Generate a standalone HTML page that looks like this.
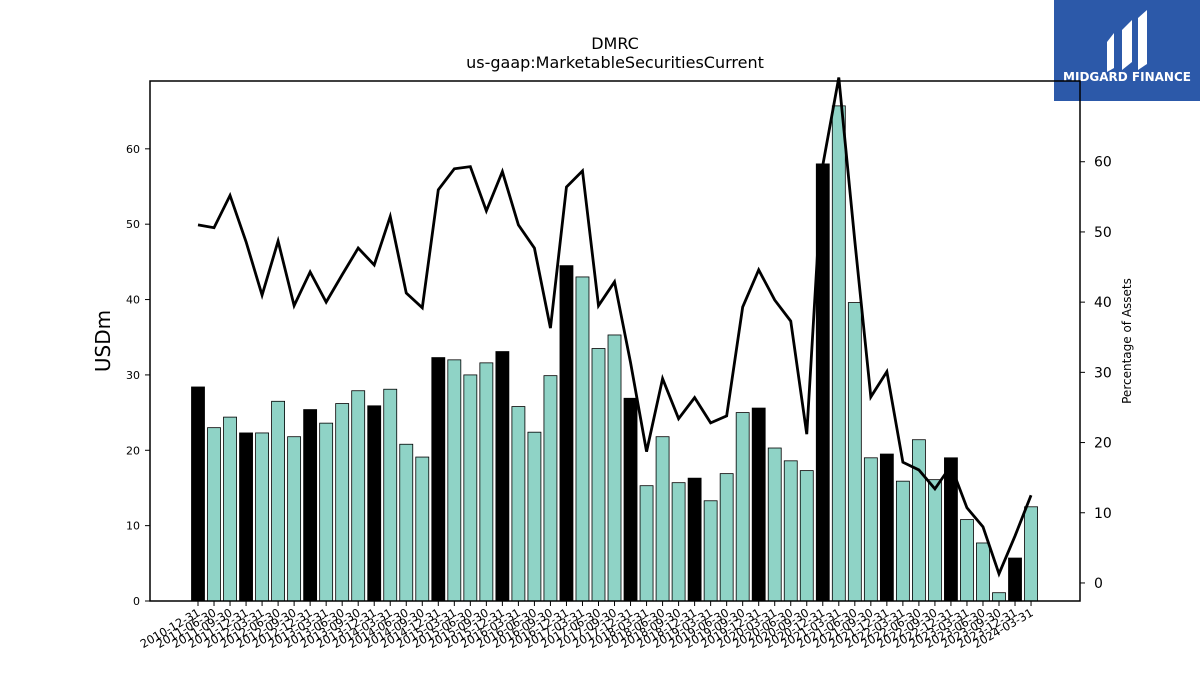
<!DOCTYPE html>
<html><head><meta charset="utf-8"><style>
body{margin:0;background:#fff;font-family:"Liberation Sans","DejaVu Sans",sans-serif}
svg text{font-family:"DejaVu Sans","Liberation Sans",sans-serif}
</style></head><body>
<svg id="c" width="1200" height="675" xmlns="http://www.w3.org/2000/svg">
<rect x="1054" y="0" width="146" height="101" fill="#2c59a9"/>
<g fill="#fff">
<path d="M1107 42 L1114 33 L1114 68 L1107 72 Z"/><path d="M1122 30 L1132 20 L1132 62 L1122 70 Z"/><path d="M1138 18 L1147 10 L1147 64 L1138 70 Z"/>
</g>
<text x="1127" y="81" text-anchor="middle" font-size="12" font-weight="bold" fill="#fff">MIDGARD FINANCE</text>
<text x="615" y="49" text-anchor="middle" font-size="16">DMRC</text>
<text x="615" y="68" text-anchor="middle" font-size="16">us-gaap:MarketableSecuritiesCurrent</text>
<g id="plot"></g>
<rect x="150" y="81" width="930" height="520" fill="none" stroke="#000" stroke-width="1.5"/>
<text transform="translate(110,341) rotate(-90)" text-anchor="middle" font-size="20">USDm</text>
<text transform="translate(1131,341) rotate(-90)" text-anchor="middle" font-size="12">Percentage of Assets</text>
</svg>
<script>
const dates=["2010-12-31","2011-06-30","2011-09-30","2011-12-31","2012-03-31","2012-06-30","2012-09-30","2012-12-31","2013-03-31","2013-06-30","2013-09-30","2013-12-31","2014-03-31","2014-06-30","2014-09-30","2014-12-31","2015-03-31","2015-06-30","2015-09-30","2015-12-31","2016-03-31","2016-06-30","2016-09-30","2016-12-31","2017-03-31","2017-06-30","2017-09-30","2017-12-31","2018-03-31","2018-06-30","2018-09-30","2018-12-31","2019-03-31","2019-06-30","2019-09-30","2019-12-31","2020-03-31","2020-06-30","2020-09-30","2020-12-31","2021-03-31","2021-06-30","2021-09-30","2021-12-31","2022-03-31","2022-06-30","2022-09-30","2022-12-31","2023-03-31","2023-06-30","2023-09-30","2023-12-31","2024-03-31"];
const values=[28.4,23.0,24.4,22.3,22.3,26.5,21.8,25.4,23.6,26.2,27.9,25.9,28.1,20.8,19.1,32.3,32.0,30.0,31.6,33.1,25.8,22.4,29.9,44.5,43.0,33.5,35.3,26.9,15.3,21.8,15.7,16.3,13.3,16.9,25.0,25.6,20.3,18.6,17.3,58.0,65.7,39.6,19.0,19.5,15.9,21.4,16.1,19.0,10.8,7.7,1.1,5.7,12.5];
const pct=[51.0,50.6,55.2,48.6,41.0,48.7,39.5,44.3,40.0,43.9,47.7,45.3,52.2,41.3,39.2,56.0,59.0,59.3,53.0,58.6,51.0,47.7,36.3,56.4,58.7,39.5,42.9,31.4,18.7,29.1,23.4,26.4,22.8,23.8,39.3,44.6,40.3,37.3,21.2,59.5,72.0,48.7,26.5,30.1,17.2,16.1,13.4,16.7,10.7,8.0,1.3,6.7,12.5];
const leftTicks=[0,10,20,30,40,50,60];
const rightTicks=[0,10,20,30,40,50,60];
const NS="http://www.w3.org/2000/svg";
const g=document.getElementById('plot');
const X0=150,X1=1080,Y0=81,Y1=601;
const step=(X1-X0)/(dates.length+5.1);
const xs=i=>198+i*16.02;
const yl=v=>Y1-(v-0)/(69.0)*(Y1-Y0);
const yr=v=>Y1-(v+2.57)/(71.5+2.57)*(Y1-Y0);
function mk(t,a){const e=document.createElementNS(NS,t);for(const k in a)e.setAttribute(k,a[k]);g.appendChild(e);return e;}
values.forEach((v,i)=>{
  const q4=dates[i].endsWith("12-31");
  const r=mk('rect',{x:xs(i)-6.5,y:yl(v),width:13,height:Y1-yl(v),fill:q4?'#000':'#8fd3c6',stroke:'#000','stroke-width':0.8});
  
  
  const t=mk('line',{x1:xs(i),x2:xs(i),y1:Y1,y2:Y1+5,stroke:'#000'});
  
  
  const lb=mk('text',{transform:`translate(${xs(i)+3},${Y1+14}) rotate(-30)`,'text-anchor':'end','font-size':11.5});
  lb.textContent=dates[i];
  
  
});
const cp=mk('clipPath',{id:'cl'});cp.appendChild(document.createElementNS(NS,'rect'));
const cr=cp.firstChild;cr.setAttribute('x',X0);cr.setAttribute('y',Y0-4);cr.setAttribute('width',X1-X0);cr.setAttribute('height',Y1-Y0+4);
const ln=mk('polyline',{points:pct.map((v,i)=>xs(i)+','+yr(v)).join(' '),fill:'none',stroke:'#000','stroke-width':2.8,'clip-path':'url(#cl)'});


leftTicks.forEach(v=>{
  const t=mk('line',{x1:X0-5,x2:X0,y1:yl(v),y2:yl(v),stroke:'#000'});
  
  
  const l=mk('text',{x:X0-10,y:yl(v)+4,'text-anchor':'end','font-size':11});l.textContent=v;
  
  
});
rightTicks.forEach(v=>{
  const t=mk('line',{x1:X1,x2:X1+5,y1:yr(v),y2:yr(v),stroke:'#000'});
  
  
  const l=mk('text',{x:X1+14,y:yr(v)+5,'font-size':14});l.textContent=v;
  
  
});
</script>
</body></html>
